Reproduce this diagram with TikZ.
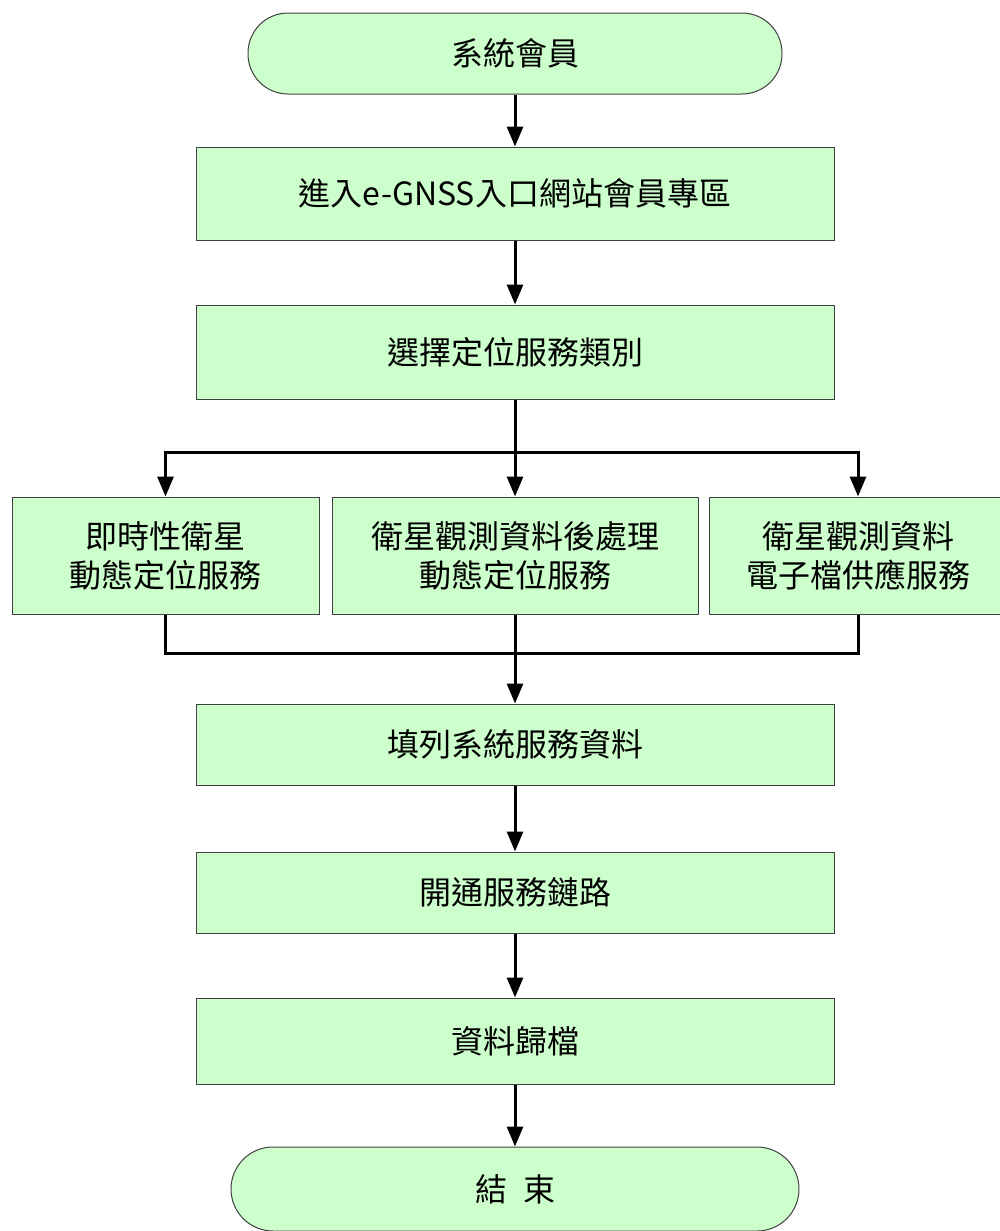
\documentclass[tikz,border=0pt]{standalone}
\usepackage{fontspec}
\setmainfont{Noto Sans CJK TC}
\usetikzlibrary{arrows.meta}
\definecolor{boxgreen}{HTML}{CCFFCC}

\begin{document}
\begin{tikzpicture}[x=0.5pt,y=-0.5pt]
	\tikzstyle{stepbox} = [draw=black!75, fill=boxgreen, line width=0.5pt, inner sep=0pt, align=center, font=\fontsize{16}{19.5}\selectfont]
	\tikzstyle{terminal} = [stepbox, rounded corners=20pt]
	\tikzstyle{flow} = [line width=1.5pt, -{Triangle[width=8pt,length=10pt]}]
	\tikzstyle{link} = [line width=1.5pt]
	\useasboundingbox (0,0) rectangle (1000,1231);
	% main column
	\node[terminal, minimum width=267pt, minimum height=40.5pt] (member) at (515,53.5) {系統會員};
	\node[stepbox, minimum width=319pt, minimum height=46.5pt] (portal) at (515,193.5) {進入e-GNSS入口網站會員專區};
	\node[stepbox, minimum width=319pt, minimum height=47pt] (choose) at (515,352) {選擇定位服務類別};
	% three services
	\node[stepbox, minimum width=153.5pt, minimum height=58.5pt] (realtime) at (165.5,555.5) {即時性衛星\\動態定位服務};
	\node[stepbox, minimum width=183pt, minimum height=58.5pt] (postproc) at (515,555.5) {衛星觀測資料後處理\\動態定位服務};
	\node[stepbox, minimum width=149pt, minimum height=58.5pt] (datafile) at (858,555.5) {衛星觀測資料\\電子檔供應服務};
	\node[stepbox, minimum width=319pt, minimum height=40.5pt] (fillin) at (515,744.5) {填列系統服務資料};
	\node[stepbox, minimum width=319pt, minimum height=40.5pt] (open) at (515,892.5) {開通服務鏈路};
	\node[stepbox, minimum width=319pt, minimum height=43pt] (archive) at (515,1041) {資料歸檔};
	\node[terminal, minimum width=284pt, minimum height=42pt, rounded corners=21pt] (finish) at (515,1189) {結\enspace 束};
	\coordinate (split) at (515,452);
	\coordinate (merge) at (515,653);
	% connectors
	\draw[flow] (member) -- (portal);
	\draw[flow] (portal) -- (choose);
	\draw[link] (choose) -- (split);
	\draw[flow] (split) -| (realtime);
	\draw[flow] (split) -- (postproc);
	\draw[flow] (split) -| (datafile);
	\draw[link] (realtime) |- (merge);
	\draw[link] (datafile) |- (merge);
	\draw[link] (postproc) -- (merge);
	\draw[flow] (merge) -- (fillin);
	\draw[flow] (fillin) -- (open);
	\draw[flow] (open) -- (archive);
	\draw[flow] (archive) -- (finish);
\end{tikzpicture}
\end{document}
